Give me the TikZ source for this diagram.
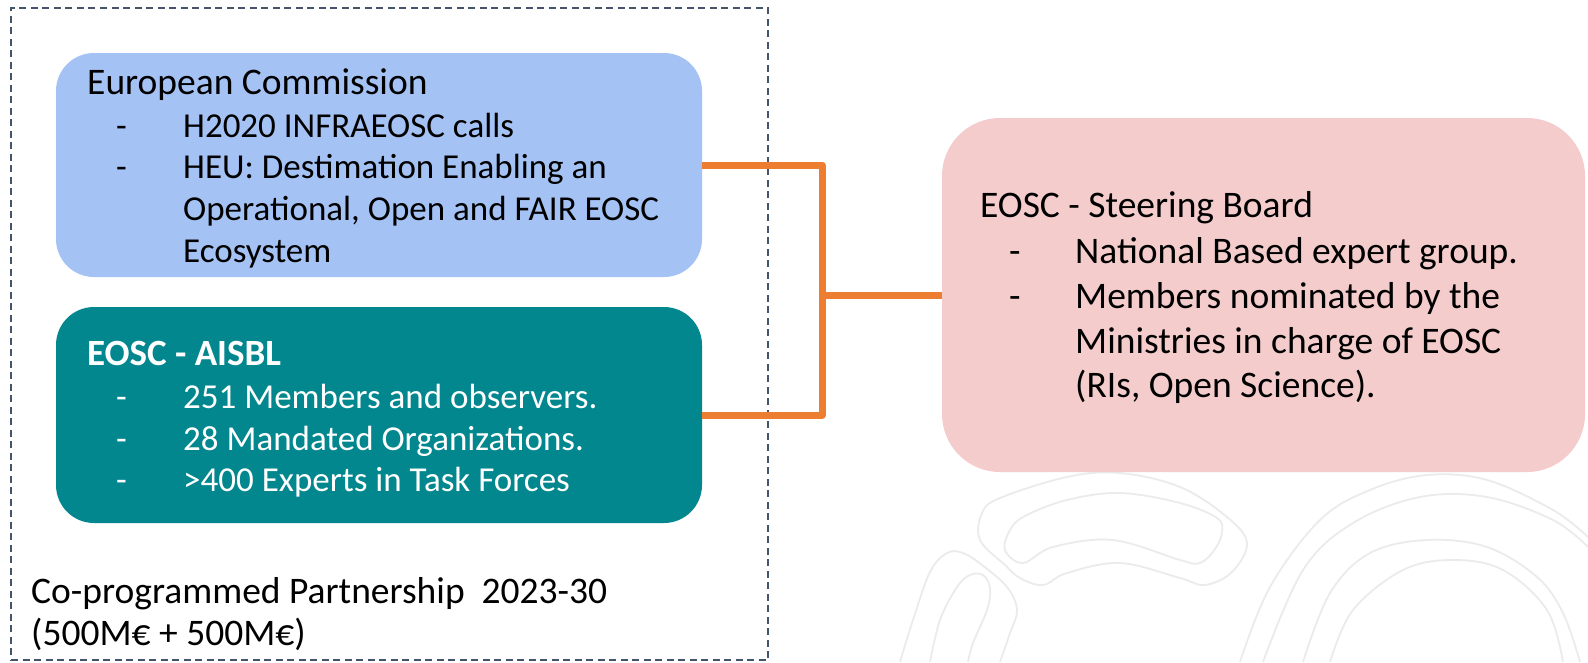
\documentclass[tikz,border=0pt]{standalone}
\usepackage{fontspec}
\setmainfont{Carlito}
\definecolor{ecblue}{HTML}{A4C2F4}
\definecolor{eoscteal}{HTML}{03878F}
\definecolor{sbpink}{HTML}{F4CCCC}
\definecolor{linkorange}{HTML}{ED7D31}
\definecolor{dashgray}{HTML}{44546A}
\definecolor{markgray}{HTML}{EBEBEB}
\tikzset{
  panel/.style={draw=none, inner sep=0pt, minimum width=646pt},
  txt/.style={anchor=base west, inner sep=0pt, font=\fontsize{35}{42}\selectfont},
  txtbig/.style={anchor=base west, inner sep=0pt, font=\fontsize{37.5}{45}\selectfont},
  link/.style={draw=linkorange, line width=7pt, line join=round},
  wmark/.style={draw=markgray, line width=1.8pt},
}
\begin{document}
\begin{tikzpicture}[x=1pt,y=-1pt]
\useasboundingbox[fill=white] (0,0) rectangle (1588,662);
% faint watermark
\draw[wmark] plot[smooth cycle, tension=0.6] coordinates {(982,513) (1000,498) (1067,477) (1120,473) (1180,487) (1227,517) (1247,543) (1232,572) (1205,585) (1180,578) (1120,563) (1067,573) (1043,585) (1020,578) (1005,565) (980,540)};
\draw[wmark] plot[smooth cycle, tension=0.6] coordinates {(1010,530) (1025,516) (1067,500) (1120,493) (1180,503) (1217,518) (1222,532) (1215,549) (1200,563) (1180,560) (1113,540) (1053,547) (1023,563) (1005,550)};
\draw[wmark] plot[smooth, tension=0.6] coordinates {(900,662) (913,620) (930,572) (947,553) (963,553) (982,565) (1007,587) (1017,610) (1010,633) (1000,662)};
\draw[wmark] plot[smooth, tension=0.6] coordinates {(930,662) (940,620) (957,587) (970,575) (983,575) (990,588) (987,610) (973,643) (968,662)};
\draw[wmark] plot[smooth, tension=0.6] coordinates {(1240,662) (1270,587) (1320,520) (1370,490) (1427,475) (1487,480) (1553,510) (1588,537)};
\draw[wmark] plot[smooth, tension=0.6] coordinates {(1263,662) (1303,570) (1353,523) (1420,497) (1487,497) (1553,520) (1588,547)};
\draw[wmark] plot[smooth, tension=0.6] coordinates {(1303,662) (1330,593) (1370,553) (1427,540) (1487,547) (1537,577) (1563,613) (1580,662)};
\draw[wmark] plot[smooth, tension=0.6] coordinates {(1330,662) (1353,610) (1403,570) (1453,560) (1503,570) (1547,610) (1563,662)};
% dashed frame
\node[draw=dashgray, line width=1.3pt, dash pattern=on 7pt off 4.5pt, inner sep=0pt,
      minimum width=757pt, minimum height=652pt] (frame) at (389.5,334) {};
% panels
\node[panel, fill=ecblue, minimum height=224pt, rounded corners=38pt] (ec) at (379,165) {};
\node[panel, fill=eoscteal, minimum height=216pt, rounded corners=38pt] (aisbl) at (379,415) {};
\node[panel, fill=sbpink, minimum width=643pt, minimum height=354pt, rounded corners=58pt] (sb) at (1263.5,295) {};
% connectors
\coordinate (j) at (822,295);
\draw[link] (ec.east) -| (j) |- (aisbl.east);
\draw[link] (j) -- (sb.west);
% European Commission text
\node[txtbig] (ect) at (87,94) {European Commission};
\node[txt] (ecd1) at (116,137) {-};
\node[txt] (ec1) at (183,137) {H2020 INFRAEOSC calls};
\node[txt] (ecd2) at (116,178) {-};
\node[txt] (ec2) at (183,178) {HEU: Destimation Enabling an};
\node[txt] (ec3) at (183,220) {Operational, Open and FAIR EOSC};
\node[txt] (ec4) at (183,262) {Ecosystem};
% EOSC AISBL text
\node[txtbig, text=white, font=\fontsize{37}{45}\selectfont\bfseries] (at) at (87,365) {EOSC - AISBL};
\node[txt, text=white] (ad1) at (116,408) {-};
\node[txt, text=white] (a1) at (183,408) {251 Members and observers.};
\node[txt, text=white] (ad2) at (116,450) {-};
\node[txt, text=white] (a2) at (183,450) {28 Mandated Organizations.};
\node[txt, text=white] (ad3) at (116,491) {-};
\node[txt, text=white] (a3) at (183,491) {>400 Experts in Task Forces};
% partnership
\node[txtbig] (p1) at (31,603) {Co-programmed Partnership\ \ 2023-30};
\node[txtbig] (p2) at (31,645) {(500M€ + 500M€)};
% Steering board text
\node[txtbig] (st) at (980,217) {EOSC - Steering Board};
\node[txtbig] (sd1) at (1009,263) {-};
\node[txtbig] (s1) at (1075,263) {National Based expert group.};
\node[txtbig] (sd2) at (1009,308) {-};
\node[txtbig] (s2) at (1075,308) {Members nominated by the};
\node[txtbig] (s3) at (1075,353) {Ministries in charge of EOSC};
\node[txtbig] (s4) at (1075,397) {(RIs, Open Science).};
\end{tikzpicture}
\end{document}
